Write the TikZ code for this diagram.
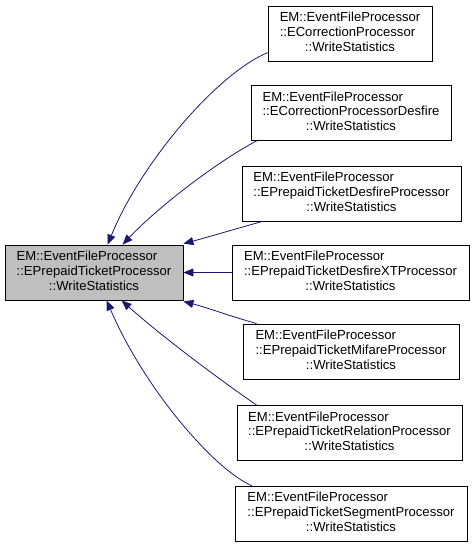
\documentclass[tikz,border=0pt]{standalone}
\usepackage{fontspec}
\setmainfont{Liberation Sans}
\usetikzlibrary{arrows.meta,calc}
\definecolor{edgeblue}{HTML}{191970}
\definecolor{boxgray}{HTML}{BFBFBF}
\newcommand{\lbl}[3]{\begin{tabular}{@{}l@{}}#1\\#2\\\multicolumn{1}{@{}c@{}}{#3}\end{tabular}}
\tikzset{
  cls/.style={draw=black, line width=0.8bp, fill=white, inner sep=0pt,
    font=\fontsize{13.1bp}{14.6bp}\selectfont, minimum height=55bp},
  cur/.style={cls, fill=boxgray},
  dep/.style={draw=edgeblue, line width=0.8bp, -{Triangle[length=10bp,width=8bp,fill=edgeblue]}}
}
\begin{document}
\begin{tikzpicture}[x=1bp,y=-1bp]
\useasboundingbox (0,0) rectangle (475,547);
\node[cur, minimum width=178bp] (L) at (94,272.5) {\lbl{EM::EventFileProcessor}{::EPrepaidTicketProcessor}{::WriteStatistics}};
\node[cls, minimum width=164bp] (B1) at (350,33.5) {\lbl{EM::EventFileProcessor}{::ECorrectionProcessor}{::WriteStatistics}};
\node[cls, minimum width=200bp] (B2) at (351,113) {\lbl{EM::EventFileProcessor}{::ECorrectionProcessorDesfire}{::WriteStatistics}};
\node[cls, minimum width=219bp] (B3) at (351.5,193.5) {\lbl{EM::EventFileProcessor}{::EPrepaidTicketDesfireProcessor}{::WriteStatistics}};
\node[cls, minimum width=237bp] (B4) at (350.5,272.5) {\lbl{EM::EventFileProcessor}{::EPrepaidTicketDesfireXTProcessor}{::WriteStatistics}};
\node[cls, minimum width=216bp] (B5) at (351,351.5) {\lbl{EM::EventFileProcessor}{::EPrepaidTicketMifareProcessor}{::WriteStatistics}};
\node[cls, minimum width=225bp] (B6) at (349.5,433) {\lbl{EM::EventFileProcessor}{::EPrepaidTicketRelationProcessor}{::WriteStatistics}};
\node[cls, minimum width=232bp] (B7) at (351,513.5) {\lbl{EM::EventFileProcessor}{::EPrepaidTicketSegmentProcessor}{::WriteStatistics}};

\draw[dep] ($(B1.north west)+(0,47)$) .. controls (215,75) and (140,165) .. ($(L.north west)+(103,0)$);
\draw[dep] ($(B2.south west)+(6,0)$) .. controls (220,160) and (160,205) .. ($(L.north west)+(118,0)$);
\draw[dep] ($(B3.south west)+(21,0)$) .. controls (235,229) and (205,238) .. ($(L.north east)+(0,-1)$);
\draw[dep] (B4.west) -- (L.east);
\draw[dep] ($(B5.north west)+(14,0)$) .. controls (230,316) and (205,307) .. ($(L.south east)+(0,1)$);
\draw[dep] ($(B6.north west)+(20,0)$) .. controls (220,380) and (160,335) .. ($(L.south west)+(117,0)$);
\draw[dep] ($(B7.north west)+(17,0)$) .. controls (215,470) and (145,390) .. ($(L.south west)+(102,0)$);
\end{tikzpicture}
\end{document}
